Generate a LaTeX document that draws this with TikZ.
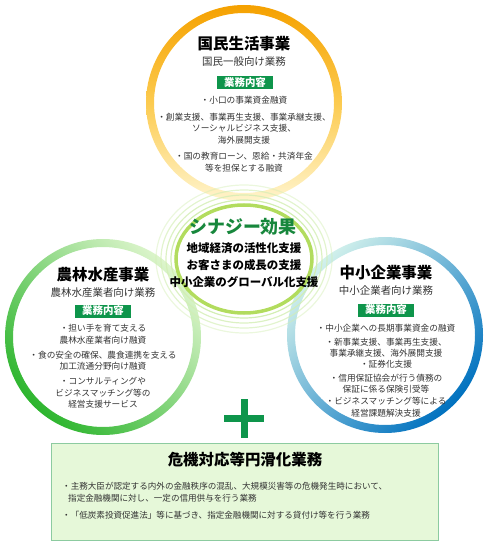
\documentclass[tikz,border=0pt]{standalone}
\usepackage{fontspec}
\setmainfont{Noto Sans CJK JP}
\usetikzlibrary{positioning}
\definecolor{korange}{HTML}{F5A100}
\definecolor{kmid}{HTML}{FCCB50}
\definecolor{kpale}{HTML}{FFF4CC}
\definecolor{ldark}{HTML}{2DB52E}
\definecolor{lpale}{HTML}{DDF5CC}
\definecolor{rdark}{HTML}{0071BF}
\definecolor{rpale}{HTML}{D2F1EC}
\definecolor{tagg}{HTML}{0E954B}
\definecolor{syng}{HTML}{17873C}
\definecolor{ringg}{HTML}{B2DC5E}
\definecolor{thing}{HTML}{D3EEB4}
\definecolor{boxfill}{HTML}{E6F8D9}
\definecolor{boxline}{HTML}{8CCBA0}
\definecolor{txt}{HTML}{333333}
\begin{document}
\begin{tikzpicture}[x=1bp, y=-1bp, font=\fontsize{8.7}{11.5}\selectfont]
\tikzstyle{ttl}=[font=\fontsize{15.5}{16}\selectfont\bfseries, inner sep=0pt]
\tikzstyle{sub}=[font=\fontsize{10.5}{12}\selectfont, text=txt, inner sep=0pt]
\tikzstyle{tag}=[fill=tagg, text=white, font=\fontsize{10.5}{12}\selectfont\bfseries, minimum width=56bp, minimum height=13bp, inner sep=0pt]
\tikzstyle{item}=[align=center, text=txt, inner sep=0pt]
\tikzstyle{syn}=[font=\fontsize{11.5}{17}\selectfont\bfseries, align=center, inner sep=0pt]

\useasboundingbox (0,0) rectangle (488,550);

% three rings
\shade[top color=korange, bottom color=kpale, middle color=kmid, even odd rule]
  (244,103) circle[radius=98bp] (244,103) circle[radius=90bp];
\shade[top color=lpale, bottom color=ldark, shading angle=-45, even odd rule]
  (103,337) circle[radius=98bp] (103,337) circle[radius=90bp];
\shade[top color=rpale, bottom color=rdark, shading angle=45, even odd rule]
  (385,335) circle[radius=98bp] (385,335) circle[radius=90bp];

% synergy rings
\foreach \k/\o in {4/0.45, 3/0.65, 2/0.8, 1/1}
  \draw[thing, opacity=\o, line width=1.2bp] (244,259) ellipse[x radius=68bp+5bp*\k, y radius=54bp+5bp*\k];
\draw[ringg, line width=3.5bp] (244,259) ellipse[x radius=68bp, y radius=54bp];

% top circle
\node[ttl]  (K)  at (244,44)    {国民生活事業};
\node[sub]  (Ks) at (244,62)    {国民一般向け業務};
\node[tag]  (Kt) at (245,82.5)  {業務内容};
\node[item] (K1) at (244,100)   {・小口の事業資金融資};
\node[item] (K2) at (244,128.5) {・創業支援、事業再生支援、事業承継支援、\\ソーシャルビジネス支援、\\海外展開支援};
\node[item] (K3) at (244,162)   {・国の教育ローン、恩給・共済年金\\等を担保とする融資};

% synergy
\node[font=\fontsize{18}{20}\selectfont\bfseries, text=syng, inner sep=0pt] (S) at (243,227) {シナジー効果};
\node[syn] (S1) at (244,265) {地域経済の活性化支援\\お客さまの成長の支援\\中小企業のグローバル化支援};

% left circle
\node[ttl]  (N)  at (103,275)   {農林水産事業};
\node[sub]  (Ns) at (103,293)   {農林水産業者向け業務};
\node[tag]  (Nt) at (103,311)   {業務内容};
\node[item] (N1) at (103,334)   {・担い手を育て支える\\農林水産業者向け融資};
\node[item] (N2) at (103,360.5) {・食の安全の確保、農食連携を支える\\加工流通分野向け融資};
\node[item] (N3) at (103,393)   {・コンサルティングや\\ビジネスマッチング等の\\経営支援サービス};

% right circle
\node[ttl]  (C)  at (386,273)   {中小企業事業};
\node[sub]  (Cs) at (386,291)   {中小企業者向け業務};
\node[tag]  (Ct) at (386,310)   {業務内容};
\node[item] (C1) at (386,328)   {・中小企業への長期事業資金の融資};
\node[item] (C2) at (386,347.5) {・新事業支援、事業再生支援、\\事業承継支援、海外展開支援};
\node[item] (C3) at (386,364.5) {・証券化支援};
\node[item] (C4) at (386,383.5) {・信用保証協会が行う債務の\\保証に係る保険引受等};
\node[item] (C5) at (386,407)   {・ビジネスマッチング等による\\経営課題解決支援};

% plus
\fill[tagg] (241,399) rectangle (248,438);
\fill[tagg] (224,415) rectangle (264,422);

% crisis box
\node[draw=boxline, fill=boxfill, line width=1bp, minimum width=386bp, minimum height=97bp, inner sep=0pt] (B) at (245,491.5) {};
\node[ttl] (Bt) at (245,460) {危機対応等円滑化業務};
\node[item, align=left, anchor=west, font=\fontsize{8.6}{12}\selectfont] (B1) at (62,492)
  {・主務大臣が認定する内外の金融秩序の混乱、大規模災害等の危機発生時において、\\\hspace*{6bp}指定金融機関に対し、一定の信用供与を行う業務};
\node[item, anchor=west, font=\fontsize{8.6}{12}\selectfont] (B2) at (62,515)
  {・「低炭素投資促進法」等に基づき、指定金融機関に対する貸付け等を行う業務};
\end{tikzpicture}
\end{document}
